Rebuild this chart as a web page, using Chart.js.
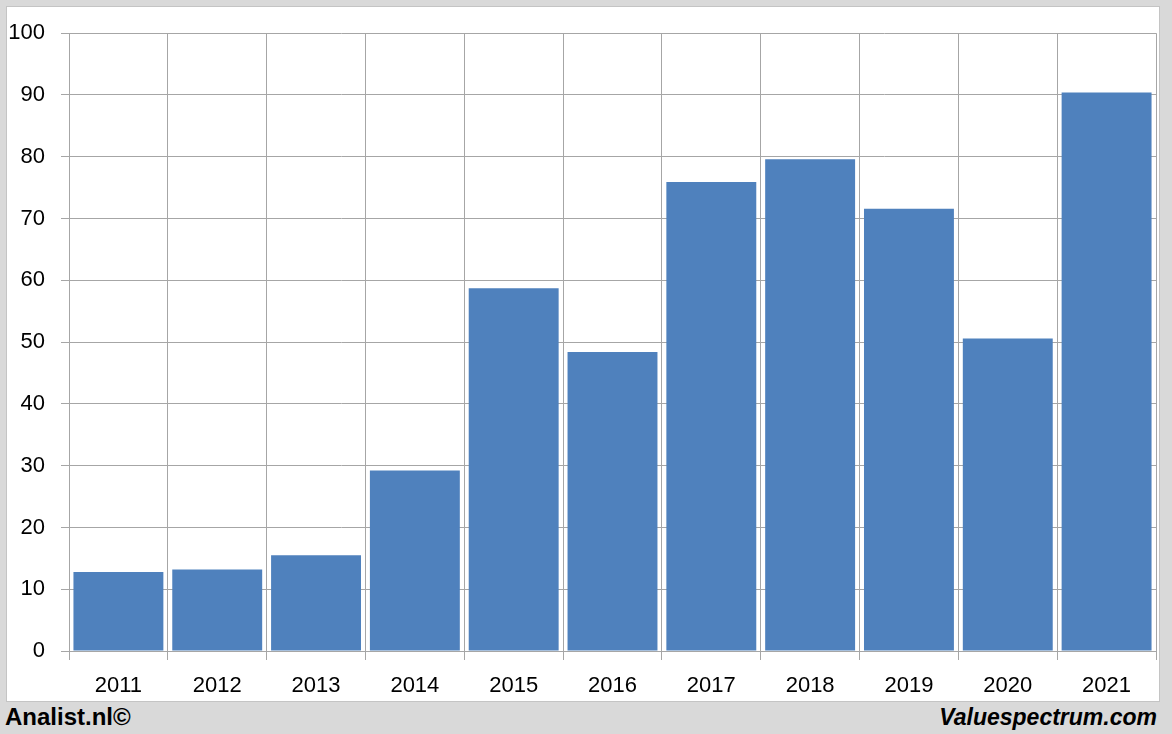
<!DOCTYPE html>
<html>
<head>
<meta charset="utf-8">
<script src="https://cdn.jsdelivr.net/npm/chart.js@4/dist/chart.umd.min.js"></script>
<style>
  html, body { margin: 0; padding: 0; }
  body { width: 1172px; height: 734px; background: #d9d9d9; position: relative; overflow: hidden;
         font-family: "Liberation Sans", Arial, sans-serif; }
  #frame { position: absolute; left: 6px; top: 6px; width: 1154px; height: 696px; box-sizing: border-box;
           background: #fff; border: 1px solid #c4c4c4; }
  #frame canvas { position: absolute; left: 0; top: -3px; }
  .foot { position: absolute; top: 703px; line-height: 28px; color: #000; font-weight: bold; }
  #left { left: 5px; font-size: 24px; }
  #right { right: 15px; font-size: 23px; font-style: italic; }
</style>
</head>
<body>
<div id="frame"><canvas id="chart" width="1152" height="697"></canvas></div>
<div class="foot" id="left">Analist.nl©</div>
<div class="foot" id="right">Valuespectrum.com</div>
<script>
// jaren en waarden
const years = ['2011', '2012', '2013', '2014', '2015', '2016', '2017', '2018', '2019', '2020', '2021'];
const values = [12.8, 13.2, 15.5, 29.2, 58.7, 48.4, 75.9, 79.6, 71.6, 50.6, 90.4];
const yTicks = [0, 10, 20, 30, 40, 50, 60, 70, 80, 90, 100];

const gridColor = '#a6a6a6';
const tickFont = { family: '"Liberation Sans", Arial, sans-serif', size: 22 };

const ctx = document.getElementById('chart').getContext('2d');
const chart = new Chart(ctx, {
    type: 'bar',
    data: {
        labels: years,
        datasets: [{
            data: values,
            backgroundColor: '#4f81bd',
            borderWidth: 0,
            barPercentage: 0.91,
            categoryPercentage: 1
        }]
    },
    options: {
        responsive: false,
        animation: false,
        layout: { padding: { top: 23, right: 3, left: 0, bottom: 0 } },
        plugins: { legend: { display: false }, tooltip: { enabled: false } },
        scales: {
            x: {
                offset: true,
                grid: { color: gridColor, offset: true, tickLength: 9, lineWidth: 1 },
                border: { color: gridColor },
                ticks: { color: '#000', font: tickFont, padding: 13, maxRotation: 0 },
                afterFit: (s) => { s.height = 50; }
            },
            y: {
                min: 0,
                max: 100,
                afterBuildTicks: (s) => { s.ticks = yTicks.map(v => ({ value: v })); },
                grid: { color: gridColor, tickLength: 8, lineWidth: 1 },
                border: { color: gridColor },
                ticks: { color: '#000', font: tickFont, padding: 16 },
                afterFit: (s) => { s.width = 62; }
            }
        }
    }
});
</script>
</body>
</html>
